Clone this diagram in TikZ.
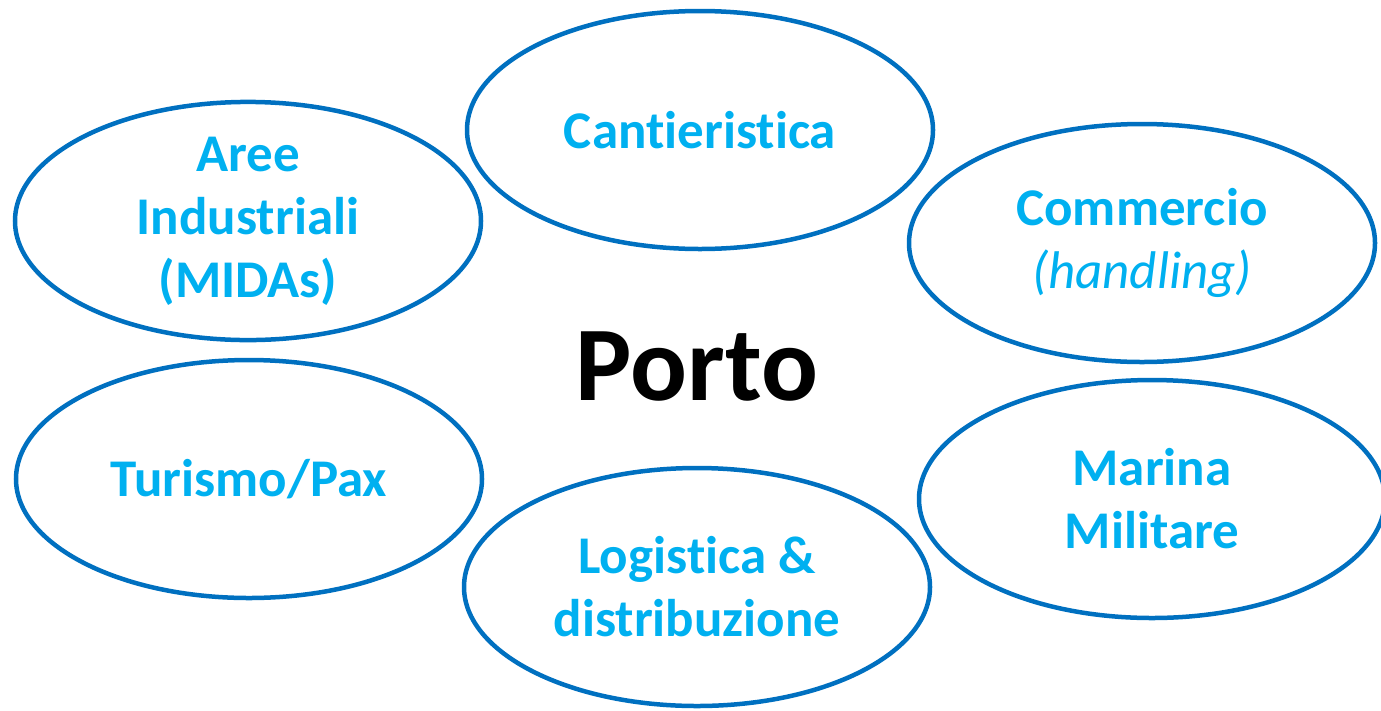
\documentclass[tikz,border=0pt]{standalone}
\usepackage{fontspec}
\setmainfont{Carlito}[Ligatures=NoCommon]
\usetikzlibrary{shapes.geometric}
\definecolor{ringblue}{HTML}{0070C0}
\definecolor{textblue}{HTML}{00B0F0}
\tikzset{
  sector/.style={ellipse, draw=ringblue, line width=4.5pt, minimum width=466pt, minimum height=238pt,
    inner sep=0pt, align=center, text=textblue, font=\fontsize{53}{63}\selectfont\bfseries},
  hub/.style={inner sep=0pt, font=\fontsize{106}{120}\selectfont\bfseries, text=black}
}
\begin{document}
\begin{tikzpicture}[x=1pt,y=-1pt]
\useasboundingbox (0,0) rectangle (1381,710);
\node[sector] (cant) at (700,130) {Cantieristica};
\node[sector] (aree) at (248,221) {Aree\\Industriali\\(MIDAs)};
\node[sector] (comm) at (1142,243) {Commercio\\{\mdseries\itshape (handling)}};
\node[sector] (tur) at (249,479) {Turismo/Pax};
\node[sector] (mar) at (1152,499) {Marina\\Militare};
\node[sector] (log) at (697,587) {Logistica \&\\distribuzione};
\node[hub, anchor=base] (porto) at (697,400) {Porto};
\end{tikzpicture}
\end{document}
